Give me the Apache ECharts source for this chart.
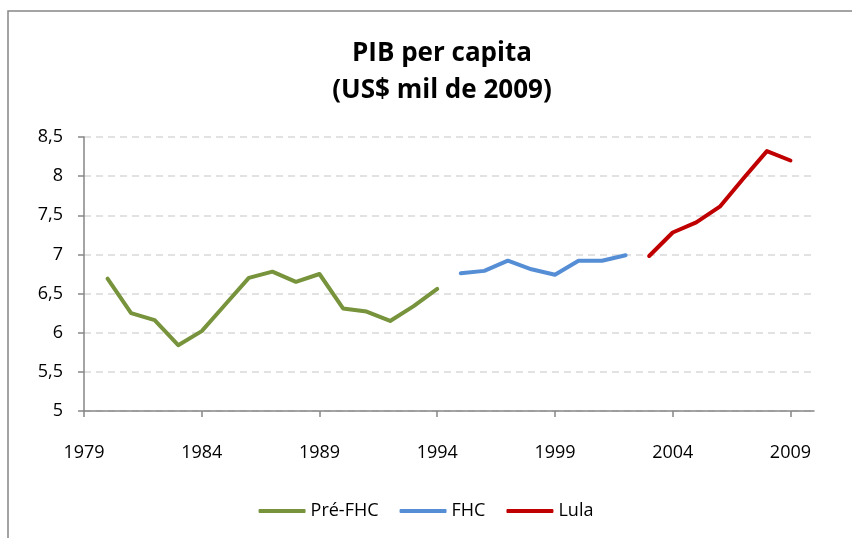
<!DOCTYPE html>
<html>
<head>
<meta charset="utf-8">
<script src="https://cdn.jsdelivr.net/npm/echarts@6/dist/echarts.min.js"></script>
<style>
  html, body { margin: 0; padding: 0; background: #fff; }
  #chart-panel { width: 852px; height: 538px; }
</style>
</head>
<body>
<div id="chart-panel"></div>
<script>
// PIB per capita, US$ mil de 2009
var preFhcYears = [1980, 1981, 1982, 1983, 1984, 1985, 1986, 1987, 1988, 1989, 1990, 1991, 1992, 1993, 1994];
var preFhcValues = [6.69, 6.25, 6.16, 5.84, 6.02, 6.36, 6.70, 6.78, 6.65, 6.75, 6.31, 6.27, 6.15, 6.34, 6.56];
var fhcYears = [1995, 1996, 1997, 1998, 1999, 2000, 2001, 2002];
var fhcValues = [6.76, 6.79, 6.92, 6.81, 6.74, 6.92, 6.92, 6.99];
var lulaYears = [2003, 2004, 2005, 2006, 2007, 2008, 2009];
var lulaValues = [6.98, 7.28, 7.41, 7.61, 7.97, 8.32, 8.20];
var yearTicks = [1979, 1984, 1989, 1994, 1999, 2004, 2009];

var font = '"Open Sans", Lato, sans-serif';

function pairs(xs, ys) {
    return xs.map(function (x, i) { return [x, ys[i]]; });
}

function lineSeries(name, color, data) {
    return {
        name: name,
        type: 'line',
        data: data,
        symbol: 'none',
        lineStyle: { color: color, width: 4, cap: 'round', join: 'round' },
        itemStyle: { color: color },
        emphasis: { disabled: true }
    };
}

var chart = echarts.init(document.getElementById('chart-panel'));

var option = {
    backgroundColor: '#fff',
    animation: false,
    textStyle: { fontFamily: font },
    title: {
        text: 'PIB per capita\n(US$ mil de 2009)',
        left: 437,
        textAlign: 'center',
        top: 30,
        textStyle: {
            fontFamily: font,
            fontSize: 26,
            fontWeight: 'bold',
            color: '#000',
            lineHeight: 37
        }
    },
    graphic: [{
        type: 'rect',
        shape: { x: 8, y: 11, width: 900, height: 600 },
        style: { fill: 'none', stroke: '#868686', lineWidth: 1.5 },
        silent: true
    }],
    legend: {
        top: 502,
        left: 'center',
        padding: 0,
        itemWidth: 47,
        itemHeight: 4,
        itemGap: 21,
        icon: 'roundRect',
        textStyle: { fontFamily: font, fontSize: 18, color: '#000' },
        data: ['Pré-FHC', 'FHC', 'Lula']
    },
    grid: { left: 84, right: 38, top: 137, bottom: 127 },
    xAxis: {
        type: 'value',
        min: 1979,
        max: 2010,
        interval: 5,
        splitLine: { show: false },
        axisLine: { lineStyle: { color: '#868686', width: 1.5 } },
        axisTick: { show: true, length: 6, customValues: yearTicks, lineStyle: { color: '#868686', width: 1.5 } },
        axisLabel: {
            customValues: yearTicks,
            margin: 33,
            fontSize: 18,
            fontFamily: font,
            color: '#000',
            formatter: function (v) { return String(v); }
        }
    },
    yAxis: {
        type: 'value',
        min: 5,
        max: 8.5,
        interval: 0.5,
        axisLine: { show: true, lineStyle: { color: '#868686', width: 1.5 } },
        axisTick: { show: true, length: 6, lineStyle: { color: '#868686', width: 1.5 } },
        splitLine: { lineStyle: { color: '#D9D9D9', width: 1.5, type: [7, 5] } },
        axisLabel: {
            margin: 21,
            fontSize: 18,
            fontFamily: font,
            color: '#000',
            formatter: function (v) { return String(v).replace('.', ','); }
        }
    },
    series: [
        lineSeries('Pré-FHC', '#77933C', pairs(preFhcYears, preFhcValues)),
        lineSeries('FHC', '#558ED5', pairs(fhcYears, fhcValues)),
        lineSeries('Lula', '#C00000', pairs(lulaYears, lulaValues))
    ]
};

chart.setOption(option);
</script>
</body>
</html>
